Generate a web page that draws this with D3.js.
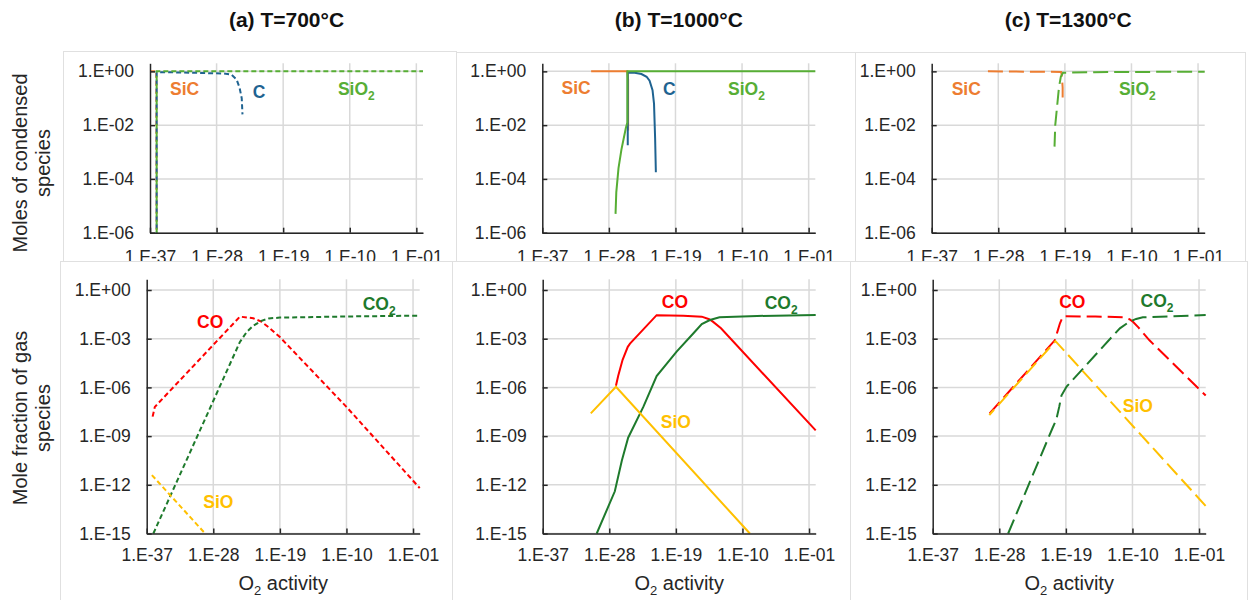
<!DOCTYPE html>
<html>
<head>
<meta charset="utf-8">
<script src="https://cdn.jsdelivr.net/npm/d3@7"></script>
<style>
  body { margin: 0; background: #fff; }
  text { font-family: "Liberation Sans", Arial, sans-serif; }
</style>
</head>
<body>
<div id="chart"></div>
<script>
// ---- axis ticks ----
const xTickValues = [1e-37, 1e-28, 1e-19, 1e-10, 1e-1];
const xTickLabels = ["1.E-37", "1.E-28", "1.E-19", "1.E-10", "1.E-01"];
const condTickValues = [1e0, 1e-2, 1e-4, 1e-6];
const condTickLabels = ["1.E+00", "1.E-02", "1.E-04", "1.E-06"];
const gasTickValues = [1e0, 1e-3, 1e-6, 1e-9, 1e-12, 1e-15];
const gasTickLabels = ["1.E+00", "1.E-03", "1.E-06", "1.E-09", "1.E-12", "1.E-15"];

const temperatures = ["(a) T=700°C", "(b) T=1000°C", "(c) T=1300°C"];

// ---- condensed species: [log10 O2 activity, log10 moles] ----
const sic700 = [[-37, 0], [-36.15, 0], [-36.1, -6.0]];
const c700 = [[-36.1, -6.0], [-36.1, -0.03], [-33, -0.04], [-30, -0.06], [-27, -0.08], [-26, -0.12],
  [-25.3, -0.3], [-24.9, -0.6], [-24.6, -1.0], [-24.5, -1.6]];
const sio2_700 = [[-36.1, -6.0], [-36.1, 0], [-0.1, 0]];

const sic1000 = [[-30.4, 0], [-25.5, 0], [-25.4, -0.3], [-25.4, -2.2]];
const c1000 = [[-25.45, -2.75], [-25.45, -0.04], [-24.5, -0.05], [-23.6, -0.1], [-22.9, -0.2], [-22.5, -0.35],
  [-22.1, -0.7], [-21.9, -1.2], [-21.75, -2.5], [-21.65, -3.75]];
const sio2_1000 = [[-27.1, -5.3], [-27.0, -4.5], [-26.7, -3.6], [-26.3, -2.9], [-25.7, -2.1], [-25.5, -1.9],
  [-25.5, 0], [-0.1, 0]];

const sic1300 = [[-29.4, 0], [-19.5, -0.02], [-19.4, -0.2], [-19.3, -0.6], [-19.3, -1.15]];
const sio2_1300 = [[-20.4, -2.8], [-20.3, -2.0], [-20.05, -1.3], [-19.8, -0.6], [-19.55, -0.2], [-19.25, -0.05],
  [-15, -0.03], [-0.1, -0.01]];

// ---- gas species: [log10 O2 activity, log10 mole fraction] ----
const co700 = [[-36.2, -7.8], [-35.9, -7.2], [-24.4, -1.64], [-22.6, -1.74], [-21.5, -1.95], [-20.5, -2.3],
  [-19, -2.9], [-10, -7.2], [-0.1, -12.2]];
const co2_700 = [[-36.1, -15.0], [-24.4, -3.2], [-23.5, -2.6], [-22.6, -2.2], [-21.5, -1.9], [-20.5, -1.75],
  [-19, -1.7], [-10, -1.63], [-0.1, -1.58]];
const sio700 = [[-36.3, -11.4], [-29.1, -15.0]];

const co1000 = [[-27.1, -5.9], [-26.8, -5.3], [-26.2, -4.3], [-25.5, -3.5], [-25.2, -3.3], [-21.6, -1.55],
  [-18, -1.58], [-15.5, -1.64], [-14.5, -1.8], [-14, -1.95], [-12.9, -2.36], [-0.1, -8.65]];
const co2_1000 = [[-29.7, -15], [-27.25, -12.4], [-26.3, -10.5], [-25.45, -9.1], [-23.4, -7.2], [-21.6, -5.3],
  [-18.9, -3.8], [-16.5, -2.6], [-15.5, -2.1], [-14.4, -1.85], [-13.1, -1.68], [-8, -1.6], [-0.1, -1.54]];
const sio1000 = [[-30.5, -7.6], [-27.1, -5.96], [-9.0, -15]];

const co1300 = [[-29.3, -7.6], [-20.5, -3.1], [-20.1, -2.5], [-19.8, -2.05], [-19.4, -1.62], [-15, -1.63],
  [-11.3, -1.68], [-10.4, -1.8], [-9.9, -1.97], [-9.2, -2.3], [-7.7, -3.1], [-0.1, -6.5]];
const co2_1300 = [[-26.8, -15], [-20.8, -8.5], [-20.3, -8.0], [-19.9, -7.2], [-19.6, -6.5], [-18.9, -5.95],
  [-12.5, -2.75], [-11.7, -2.36], [-10.4, -1.95], [-9.5, -1.78], [-8.6, -1.68], [-0.1, -1.54]];
const sio1300 = [[-29.35, -7.7], [-20.4, -3.15], [-0.1, -13.3]];

const colors = { SiC: "#ED7D31", C: "#1F6391", SiO2: "#57AE35", CO: "#FF0000", CO2: "#1E7A2C", SiO: "#FFC000" };

// series per column; label "at" is where the species name sits (data coords)
const columns = [
  {
    topX: 150, botX: 146.7, dash: "5 3",
    condensed: [
      { name: "SiC", data: sic700, at: [-34.3, -0.88] },
      { name: "C", data: c700, at: [-23.1, -0.99], offset: 4 },
      { name: "SiO2", data: sio2_700, at: [-11.6, -0.88] }
    ],
    gas: [
      { name: "CO", data: co700, at: [-30.2, -2.36] },
      { name: "CO2", data: co2_700, at: [-7.8, -1.23] },
      { name: "SiO", data: sio700, at: [-29.35, -13.45] }
    ]
  },
  {
    topX: 542.3, botX: 542.7, dash: null,
    condensed: [
      { name: "SiC", data: sic1000, at: [-34.4, -0.86] },
      { name: "C", data: c1000, at: [-20.7, -0.88] },
      { name: "SiO2", data: sio2_1000, at: [-11.9, -0.88] }
    ],
    gas: [
      { name: "CO", data: co1000, at: [-20.9, -1.09] },
      { name: "CO2", data: co2_1000, at: [-7.0, -1.19] },
      { name: "SiO", data: sio1000, at: [-21.05, -8.52] }
    ]
  },
  {
    topX: 931.7, botX: 932.7, dash: "15 6",
    condensed: [
      { name: "SiC", data: sic1300, at: [-34.3, -0.88] },
      { name: "SiO2", data: sio2_1300, at: [-11.7, -0.88] }
    ],
    gas: [
      { name: "CO", data: co1300, at: [-19.9, -1.09] },
      { name: "CO2", data: co2_1300, at: [-8.9, -1.03] },
      { name: "SiO", data: sio1300, at: [-11.3, -7.5], offset: 8 }
    ]
  }
];

const width = 1248;
const height = 600;
const plotW = 273;
const xMax = 10 ** -0.1;

const topRow = { top: 63.3, bottom: 232.7, domain: [1e-6, 10 ** 0.3], ticks: condTickValues, labels: condTickLabels, labelY: 17.5 };
const botRow = { top: 279.3, bottom: 533.5, domain: [1e-15, 10 ** 0.66], ticks: gasTickValues, labels: gasTickLabels, labelY: 15.5 };

const topBoxes = [[63, 51, 456, 262], [456, 52, 855, 262], [855, 52, 1245, 262]];
const botBoxes = [[60, 261, 452, 604], [452, 261, 850, 604], [850, 261, 1247, 604]];

const svg = d3.select("#chart")
  .append("svg")
  .attr("width", width)
  .attr("height", height);

function box(b) {
  svg.append("rect")
    .attr("x", b[0] + 0.5).attr("y", b[1] + 0.5)
    .attr("width", b[2] - b[0]).attr("height", b[3] - b[1])
    .attr("fill", "#fff")
    .attr("stroke", "#e0e0e0")
    .attr("stroke-width", 1);
}

// species name with optional subscript 2
function speciesText(sel, name) {
  if (name.endsWith("2")) {
    sel.append("tspan").text(name.slice(0, -1));
    sel.append("tspan").attr("dy", 5).style("font-size", "12px").text("2");
  } else {
    sel.text(name);
  }
}

function drawPanel(x0, row, series, dash) {
  const x = d3.scaleLog().domain([1e-37, xMax]).range([x0, x0 + plotW]);
  const y = d3.scaleLog().domain(row.domain).range([row.bottom, row.top]);
  const g = svg.append("g");

  // gridlines
  g.append("g").selectAll("line")
    .data(row.ticks)
    .join("line")
    .attr("x1", x0).attr("x2", x0 + plotW)
    .attr("y1", d => y(d)).attr("y2", d => y(d))
    .attr("stroke", "#d9d9d9").attr("stroke-width", 1.5);
  g.append("g").selectAll("line")
    .data(xTickValues.slice(1))
    .join("line")
    .attr("x1", d => x(d)).attr("x2", d => x(d))
    .attr("y1", row.top).attr("y2", row.bottom)
    .attr("stroke", "#d9d9d9").attr("stroke-width", 1.5);

  // data lines
  const line = d3.line()
    .x(d => x(10 ** d[0]))
    .y(d => y(10 ** d[1]));
  series.forEach(s => {
    g.append("path")
      .datum(s.data)
      .attr("d", line)
      .attr("fill", "none")
      .attr("stroke", colors[s.name])
      .attr("stroke-width", 2)
      .attr("stroke-dasharray", dash)
      .attr("stroke-dashoffset", s.offset || 0);
  });

  // axes
  const yAxis = g.append("g")
    .attr("transform", `translate(${x0},0)`)
    .call(d3.axisLeft(y).tickValues(row.ticks)
      .tickFormat((d, i) => row.labels[i])
      .tickSizeInner(-5).tickSizeOuter(0).tickPadding(16));
  const xAxis = g.append("g")
    .attr("transform", `translate(0,${row.bottom})`)
    .call(d3.axisBottom(x).tickValues(xTickValues)
      .tickFormat((d, i) => xTickLabels[i])
      .tickSizeInner(-5).tickSizeOuter(0).tickPadding(row.labelY));
  [yAxis, xAxis].forEach(a => {
    a.select(".domain").attr("stroke", "#262626").attr("stroke-width", 1.5);
    a.selectAll(".tick line").attr("stroke", "#262626").attr("stroke-width", 1.5);
    a.selectAll(".tick text")
      .style("font-family", '"Liberation Sans", Arial, sans-serif')
      .style("font-size", "17.5px")
      .attr("fill", "#262626");
  });

  // species labels
  series.forEach(s => {
    g.append("text")
      .attr("x", x(10 ** s.at[0]))
      .attr("y", y(10 ** s.at[1]))
      .attr("fill", colors[s.name])
      .style("font-size", "17.5px")
      .style("font-weight", "bold")
      .call(speciesText, s.name);
  });
}

// top row
topBoxes.forEach(box);
columns.forEach((c, i) => {
  drawPanel(c.topX, topRow, c.condensed, c.dash);
  svg.append("text")
    .attr("x", c.topX + plotW / 2)
    .attr("y", 27)
    .attr("text-anchor", "middle")
    .style("font-size", "21px")
    .style("font-weight", "bold")
    .attr("fill", "#111")
    .text(temperatures[i]);
});

// bottom row (its chart area sits over the top row's tick labels)
botBoxes.forEach(box);
columns.forEach(c => {
  drawPanel(c.botX, botRow, c.gas, c.dash);
  const t = svg.append("text")
    .attr("x", c.botX + plotW / 2)
    .attr("y", 590)
    .attr("text-anchor", "middle")
    .style("font-size", "20px")
    .attr("fill", "#262626");
  t.append("tspan").text("O");
  t.append("tspan").attr("dy", 5).style("font-size", "13px").text("2");
  t.append("tspan").attr("dy", -5).text(" activity");
});

// y axis titles
function yTitle(cy, lines) {
  const t = svg.append("text")
    .attr("transform", `translate(0,${cy}) rotate(-90)`)
    .attr("text-anchor", "middle")
    .style("font-size", "20px")
    .attr("fill", "#262626");
  lines.forEach((l, i) => {
    t.append("tspan").attr("x", 0).attr("y", i === 0 ? 27 : 49.5).text(l);
  });
}
yTitle(163, ["Moles of condensed", "species"]);
yTitle(418, ["Mole fraction of gas", "species"]);
</script>
</body>
</html>
